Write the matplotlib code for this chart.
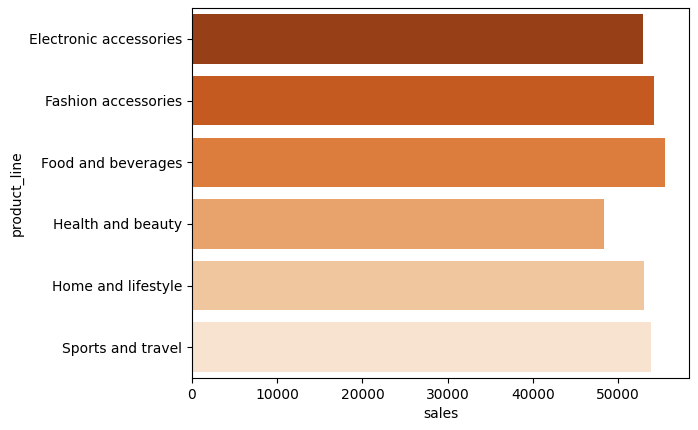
import matplotlib
matplotlib.use("Agg")
import matplotlib.pyplot as plt
import seaborn as sns
import pandas as pd

product_line = ["Electronic accessories", "Fashion accessories", "Food and beverages",
                "Health and beauty", "Home and lifestyle", "Sports and travel"]
sales = [52940, 54240, 55530, 48350, 53060, 53890]

df = pd.DataFrame({"product_line": product_line, "sales": sales})

fig, ax = plt.subplots(figsize=(6.98, 4.30), dpi=100)
sns.barplot(data=df, x="sales", y="product_line", hue="product_line",
            palette="Oranges_r", legend=False, ax=ax)
plt.subplots_adjust(left=0.275, right=0.987, top=0.981, bottom=0.121)
plt.savefig("out.png", dpi=100)
